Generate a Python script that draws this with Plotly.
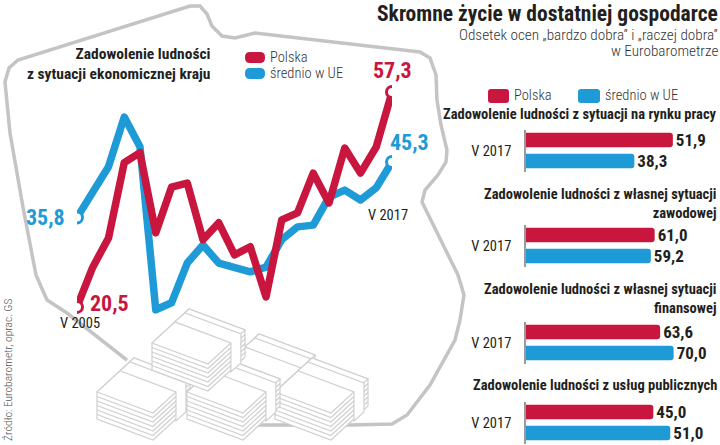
import plotly.graph_objects as go

W, H = 720, 445

# line chart data (Eurobarometr waves, V 2005 .. V 2017)
waves = list(range(21))
polska = [20.5, 27.3, 32.3, 45.2, 46.9, 33.2, 41.0, 41.7, 32.0, 34.9, 29.4,
          30.8, 22.2, 35.4, 36.6, 43.4, 38.3, 47.7, 43.4, 47.9, 57.3]
srednio_ue = [35.8, 40.2, 44.5, 53.0, 47.9, 20.0, 21.2, 28.0, 31.1, 28.0, 27.2,
              26.5, 27.3, 32.0, 34.2, 34.5, 39.3, 40.5, 38.8, 40.9, 45.3]

# bar panels (V 2017)
panel_titles = [
    "Zadowolenie ludności z sytuacji na rynku pracy",
    "Zadowolenie ludności z własnej sytuacji<br>zawodowej",
    "Zadowolenie ludności z własnej sytuacji<br>finansowej",
    "Zadowolenie ludności z usług publicznych",
]
bar_polska = [51.9, 61.0, 63.6, 45.0]
bar_ue = [38.3, 59.2, 70.0, 51.0]

RED = "#c8163f"
BLUE = "#1e9bd7"
DARK = "#231f20"
GRAY = "#c4c4c4"
FONT = "Roboto Condensed, Roboto, DejaVu Sans Condensed, sans-serif"


def px(x):
    return x / W


def py(y):
    return 1 - y / H


def path(points, close=False):
    s = "M " + " L ".join(f"{px(x):.4f},{py(y):.4f}" for x, y in points)
    return s + (" Z" if close else "")


def fmt(v):
    return f"{v:.1f}".replace(".", ",")


fig = go.Figure()

# line chart
fig.add_trace(go.Scatter(x=waves, y=srednio_ue, mode="lines",
                         line=dict(color=BLUE, width=7.5), xaxis="x", yaxis="y",
                         showlegend=False, hoverinfo="skip"))
fig.add_trace(go.Scatter(x=waves, y=polska, mode="lines",
                         line=dict(color=RED, width=7.5), xaxis="x", yaxis="y",
                         showlegend=False, hoverinfo="skip"))
for series, col in [(srednio_ue, BLUE), (polska, RED)]:
    fig.add_trace(go.Scatter(x=[waves[0], waves[-1]], y=[series[0], series[-1]],
                             mode="markers", xaxis="x", yaxis="y",
                             marker=dict(size=11, color="white", line=dict(color=col, width=3)),
                             showlegend=False, hoverinfo="skip"))

# bar panels
bar_domains = [(129.5, 171.5), (224.5, 266.5), (321.5, 363.5), (401.5, 443.5)]
bar_ranges = [61.5, 82.5, 82.5, 61.5]
for i in range(4):
    n = i + 2
    for val, col, pos in [(bar_polska[i], RED, 1), (bar_ue[i], BLUE, 0)]:
        fig.add_trace(go.Bar(x=[val], y=[pos], orientation="h", width=0.68,
                             marker=dict(color=col, line=dict(width=0)),
                             text=[fmt(val)], textposition="outside", cliponaxis=False,
                             constraintext="none",
                             textfont=dict(family=FONT, size=17, color=DARK, weight="bold"),
                             xaxis=f"x{n}", yaxis=f"y{n}", showlegend=False,
                             hoverinfo="skip"))

layout = dict(
    width=W, height=H, margin=dict(l=0, r=0, t=0, b=0),
    paper_bgcolor="white", plot_bgcolor="rgba(0,0,0,0)",
    font=dict(family=FONT, color=DARK),
    barcornerradius=3,
    xaxis=dict(domain=[px(77), px(392)], range=[0, 20], visible=False),
    yaxis=dict(domain=[py(339), py(64.5)], range=[15, 62], visible=False),
)
for i in range(4):
    n = i + 2
    top, bottom = bar_domains[i]
    layout[f"xaxis{n}"] = dict(domain=[px(526), px(700)], range=[0, bar_ranges[i]],
                               visible=False, anchor=f"y{n}")
    layout[f"yaxis{n}"] = dict(domain=[py(bottom), py(top)], range=[-0.5, 1.5],
                               anchor=f"x{n}", showline=True, linecolor="#9a9a9a",
                               linewidth=1.5, showgrid=False, zeroline=False,
                               tickvals=[0.5], ticktext=["V 2017"], ticks="",
                               ticklabelstandoff=10,
                               tickfont=dict(family=FONT, size=14.5, color=DARK))
fig.update_layout(**layout)

# Poland outline (decoration)
outline = [(127, 360), (67, 313), (47, 300), (36, 275), (23, 207), (10, 133), (5, 82),
           (9, 68), (18, 60), (190, 6), (200, 6), (207, 14), (212, 26), (222, 36),
           (235, 38), (255, 33), (420, 52), (430, 58), (436, 75), (437, 100),
           (441, 125), (447, 150), (446, 162), (438, 175), (425, 190), (422, 202),
           (458, 275), (464, 295), (460, 320), (455, 340), (430, 385), (407, 415),
           (392, 424), (350, 425), (250, 425)]
shapes = [dict(type="path", xref="paper", yref="paper", path=path(outline),
               line=dict(color=GRAY, width=3.5), layer="below")]


def stack(lx, ly, u=(56, 21), v=(37, -34), h=27, n=6):
    L = (lx, ly)
    B = (lx + u[0], ly + u[1])
    R = (B[0] + v[0], B[1] + v[1])
    T = (lx + v[0], ly + v[1])
    st = dict(color="#d0d0d0", width=1.2)
    out = []
    body = [T, L, (L[0], L[1] + h), (B[0], B[1] + h), (R[0], R[1] + h), R]
    out.append(dict(type="path", xref="paper", yref="paper", path=path(body, True),
                    fillcolor="white", line=st, layer="below"))
    out.append(dict(type="path", xref="paper", yref="paper", path=path([L, B, R, T], True),
                    fillcolor="white", line=st, layer="below"))
    for k in range(1, n):
        d = h * k / n
        out.append(dict(type="path", xref="paper", yref="paper",
                        path=path([(L[0], L[1] + d), (B[0], B[1] + d), (R[0], R[1] + d)]),
                        line=st, layer="below"))
    # paper band
    m0 = (L[0] + 0.62 * v[0], L[1] + 0.62 * v[1])
    m1 = (m0[0] + u[0], m0[1] + u[1])
    band = [(m0[0] + 10, m0[1] - 9), (m0[0], m0[1]), (m1[0], m1[1]), (m1[0], m1[1] + h + 2),
            (m1[0] + 10, m1[1] + h - 7), (m1[0] + 10, m1[1] - 9)]
    out.append(dict(type="path", xref="paper", yref="paper", path=path(band, True),
                    fillcolor="white", line=st, layer="below"))
    return out


for lx, ly in [(222, 368), (275, 392), (97, 392), (187, 392), (152, 343)]:
    shapes += stack(lx, ly)


def rrect(x0, y0, x1, y1, r):
    return (f"M {px(x0 + r)},{py(y0)} L {px(x1 - r)},{py(y0)} Q {px(x1)},{py(y0)} {px(x1)},{py(y0 + r)} "
            f"L {px(x1)},{py(y1 - r)} Q {px(x1)},{py(y1)} {px(x1 - r)},{py(y1)} "
            f"L {px(x0 + r)},{py(y1)} Q {px(x0)},{py(y1)} {px(x0)},{py(y1 - r)} "
            f"L {px(x0)},{py(y0 + r)} Q {px(x0)},{py(y0)} {px(x0 + r)},{py(y0)} Z")


# legends
for (x0, y0, x1, y1, r, col) in [(245, 52, 265, 63, 5, RED), (245, 68, 265, 79, 5, BLUE),
                                 (488, 89, 509, 103, 3, RED), (578, 89, 600, 103, 3, BLUE)]:
    shapes.append(dict(type="path", xref="paper", yref="paper", path=rrect(x0, y0, x1, y1, r),
                       fillcolor=col, line=dict(width=0)))
fig.update_layout(shapes=shapes)

ann = []


def note(text, x, y, size, color=DARK, weight="normal", xanchor="left", yanchor="middle",
         align="left", **kw):
    ann.append(dict(text=text, x=px(x), y=py(y), xref="paper", yref="paper",
                    xanchor=xanchor, yanchor=yanchor, align=align, showarrow=False,
                    font=dict(family=FONT, size=size, color=color, weight=weight), **kw))


note("Skromne życie w dostatniej gospodarce", 720, 13, 21.5, weight="bold", xanchor="right")
note("Odsetek ocen „bardzo dobra” i „raczej dobra”", 720, 34.5, 15.2,
     color="#333333", weight=300, xanchor="right", align="right")
note("w Eurobarometrze", 720, 51, 15.2,
     color="#333333", weight=300, xanchor="right", align="right")
note("Zadowolenie ludności<br>z sytuacji ekonomicznej kraju", 213, 64, 15.5, weight="bold",
     xanchor="right", align="right")
note("Polska", 268, 57.5, 14.5, color="#333333", weight=300)
note("średnio w UE", 268, 73.5, 14.5, color="#333333", weight=300)
note("Polska", 512, 96, 14.5, color="#333333", weight=300)
note("średnio w UE", 603, 96, 14.5, color="#333333", weight=300)
for t, yc in zip(panel_titles, [115, 203.5, 298.5, 385]):
    note(t, 719, yc, 14.5, weight="bold", xanchor="right", align="right")
note("Źródło: Eurobarometr, oprac. GS", 8, 370, 11.5, color="#555555", weight=300,
     xanchor="center", textangle=-90)

# value labels on the lines
ann.append(dict(x=waves[0], y=srednio_ue[0], xref="x", yref="y", text=fmt(srednio_ue[0]),
                showarrow=False, xanchor="right", xshift=-10,
                font=dict(family=FONT, size=22, color=BLUE, weight="bold")))
ann.append(dict(x=waves[0], y=polska[0], xref="x", yref="y", text=fmt(polska[0]),
                showarrow=False, xanchor="left", xshift=11, yshift=3,
                font=dict(family=FONT, size=22, color=RED, weight="bold")))
ann.append(dict(x=waves[0], y=polska[0], xref="x", yref="y", text="V 2005",
                showarrow=False, xanchor="center", xshift=3, yshift=-17,
                font=dict(family=FONT, size=14.5, color=DARK)))
ann.append(dict(x=waves[-1], y=polska[-1], xref="x", yref="y", text=fmt(polska[-1]),
                showarrow=False, xanchor="center", yshift=21,
                font=dict(family=FONT, size=22, color=RED, weight="bold")))
ann.append(dict(x=waves[-1], y=srednio_ue[-1], xref="x", yref="y", text=fmt(srednio_ue[-1]),
                showarrow=False, xanchor="center", xshift=17, yshift=20,
                font=dict(family=FONT, size=22, color=BLUE, weight="bold")))
ann.append(dict(x=waves[-1], y=srednio_ue[-1], xref="x", yref="y", text="V 2017",
                showarrow=False, xanchor="center", xshift=-4, yshift=-53,
                font=dict(family=FONT, size=14.5, color=DARK)))
fig.update_layout(annotations=ann)

# drop the page's default body margin; round joins on the thick lines
post = ("document.body.style.margin='0';"
        "document.querySelectorAll('.scatterlayer .js-line').forEach(function(p){"
        "p.style.strokeLinejoin='round';p.style.strokeLinecap='round';});")
fig.write_html("out.html", post_script=post, config={"displayModeBar": False})
